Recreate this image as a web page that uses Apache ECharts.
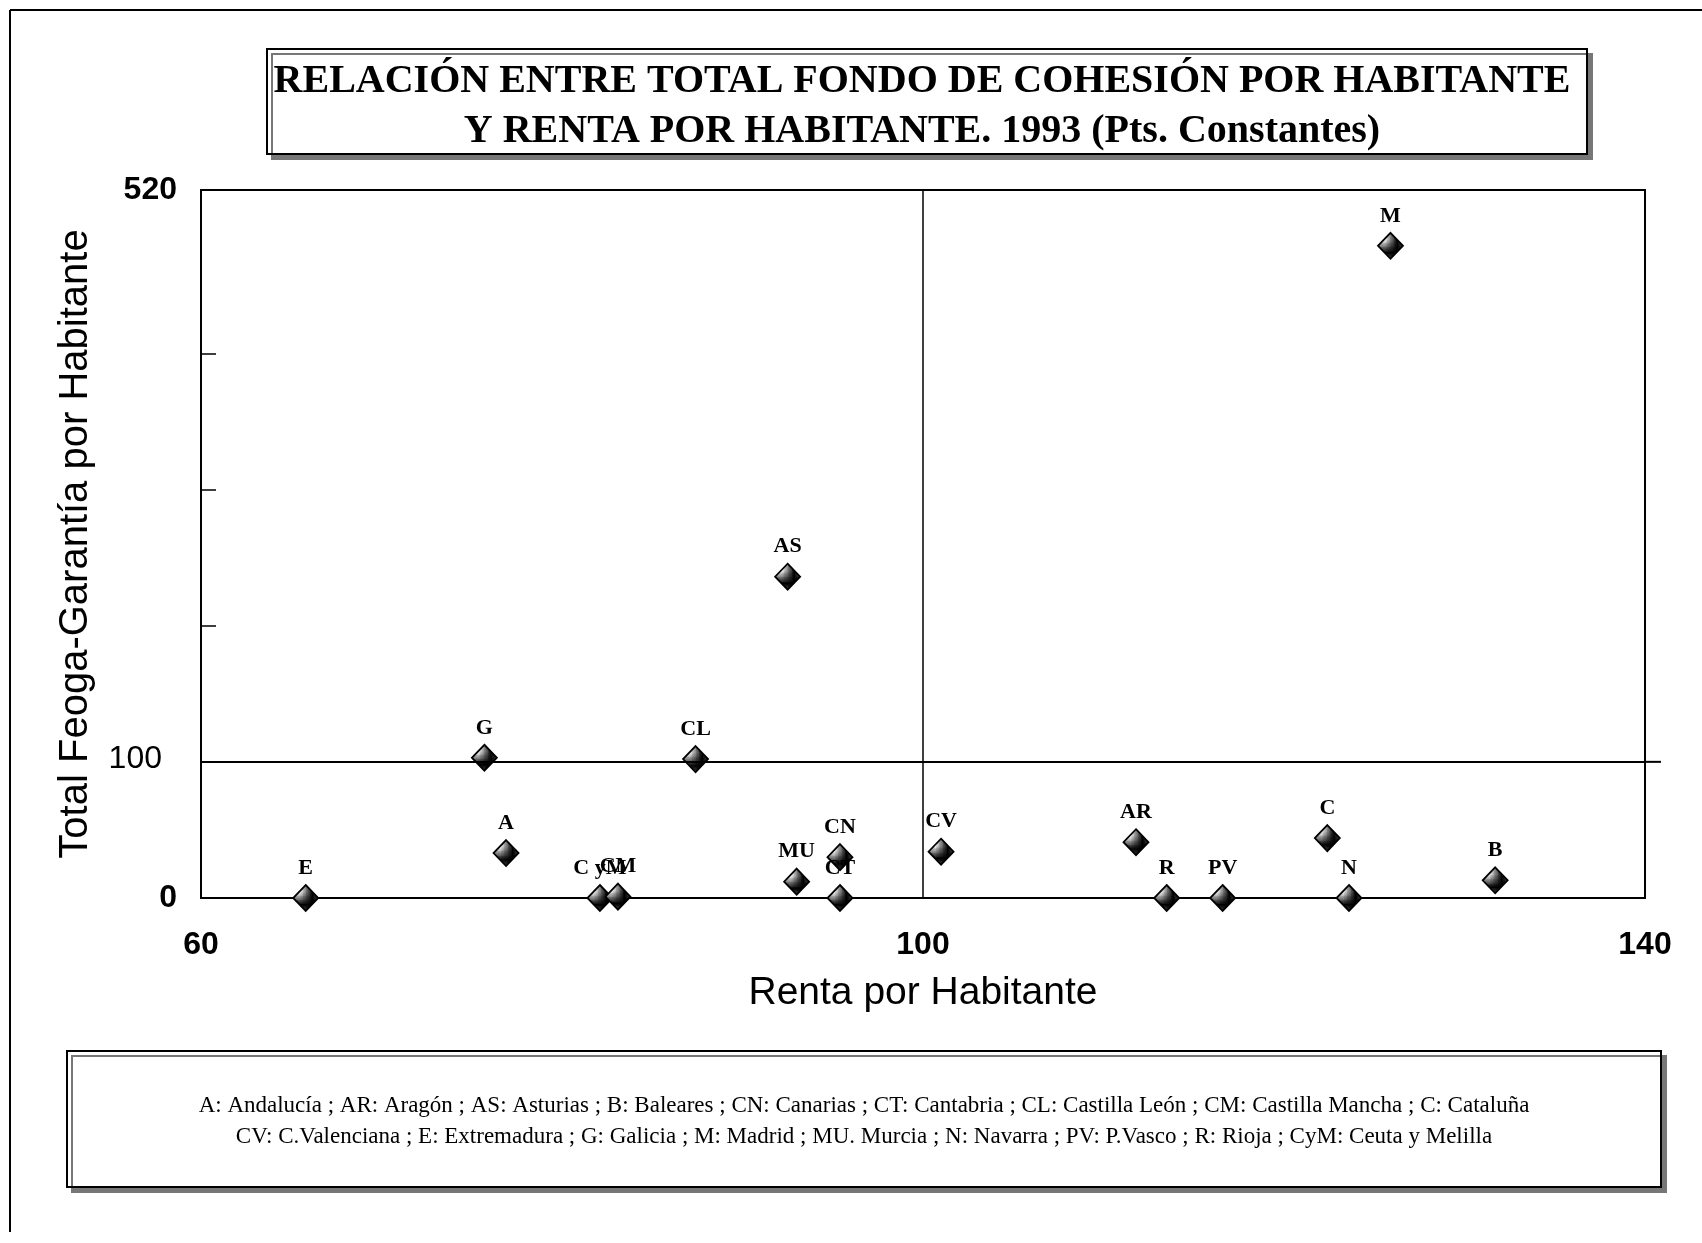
<!DOCTYPE html>
<html>
<head>
<meta charset="utf-8">
<script src="https://cdn.jsdelivr.net/npm/echarts@6/dist/echarts.min.js"></script>
<style>
html,body{margin:0;padding:0;background:#fff;}
#chart{width:1702px;height:1243px;}
</style>
</head>
<body>
<div id="chart"></div>
<script>
// ---- data ----
var codes = ['E', 'G', 'A', 'C yM', 'CM', 'CL', 'AS', 'MU', 'CN', 'CT', 'CV', 'AR', 'R', 'PV', 'C', 'N', 'M', 'B'];
var renta = [65.8, 75.7, 76.9, 82.1, 83.1, 87.4, 92.5, 93.0, 95.4, 95.4, 101.0, 111.8, 113.5, 116.6, 122.4, 123.6, 125.9, 131.7];
var feoga = [0, 103, 33, 0, 1, 102, 236, 12, 30, 0, 34, 41, 0, 0, 44, 0, 479, 13];
var xTickLabels = [60, 100, 140];
var yTickLabels = [0, 100, 520];
var yMinorTicks = [200, 300, 400];
var titleLines = ['RELACIÓN ENTRE TOTAL FONDO DE COHESIÓN POR HABITANTE', 'Y RENTA POR HABITANTE. 1993 (Pts. Constantes)'];
var legendLines = [
  'A: Andalucía ; AR: Aragón ; AS: Asturias ; B: Baleares ; CN: Canarias ; CT: Cantabria ; CL: Castilla León ; CM: Castilla Mancha ; C: Cataluña',
  'CV: C.Valenciana ; E: Extremadura ; G: Galicia ; M: Madrid ; MU. Murcia ; N: Navarra ; PV: P.Vasco ; R: Rioja ; CyM: Ceuta y Melilla'
];
var xName = 'Renta por Habitante';
var yName = 'Total Feoga-Garantía por Habitante';

// ---- mesh pattern for the diamonds ----
var pc = document.createElement('canvas');
pc.width = 3; pc.height = 3;
var pctx = pc.getContext('2d');
pctx.fillStyle = '#000'; pctx.fillRect(0, 0, 3, 3);
pctx.fillStyle = '#fff'; pctx.fillRect(1, 1, 2, 2);

var points = codes.map(function (c, i) { return { name: c, value: [renta[i], feoga[i]] }; });

var chart = echarts.init(document.getElementById('chart'), null, { renderer: 'canvas' });

var serif = '"Liberation Serif", "Times New Roman", serif';
var sans = '"Liberation Sans", Arial, sans-serif';

var baseGraphic = [
  { id: 'frameTop', type: 'line', shape: { x1: 10, y1: 10, x2: 1702, y2: 10 }, style: { stroke: '#000', lineWidth: 2 } },
  { id: 'frameLeft', type: 'line', shape: { x1: 10, y1: 10, x2: 10, y2: 1232 }, style: { stroke: '#000', lineWidth: 2 } },
  { id: 'titleBox', type: 'rect', shape: { x: 267, y: 49, width: 1320, height: 105 },
    style: { fill: '#fff', stroke: '#000', lineWidth: 2, shadowColor: '#777', shadowOffsetX: 5, shadowOffsetY: 5, shadowBlur: 0 } },
  { id: 'title1', type: 'text', x: 922, y: 82, style: { text: titleLines[0], fontFamily: serif, fontWeight: 'bold', fontSize: 40, fill: '#000', align: 'center', verticalAlign: 'middle' } },
  { id: 'title2', type: 'text', x: 922, y: 132, style: { text: titleLines[1], fontFamily: serif, fontWeight: 'bold', fontSize: 40, fill: '#000', align: 'center', verticalAlign: 'middle' } },
  { id: 'legBox', type: 'rect', shape: { x: 67, y: 1051, width: 1594, height: 136 },
    style: { fill: '#fff', stroke: '#000', lineWidth: 2, shadowColor: '#777', shadowOffsetX: 5, shadowOffsetY: 5, shadowBlur: 0 } },
  { id: 'leg1', type: 'text', x: 864, y: 1106, style: { text: legendLines[0], fontFamily: serif, fontSize: 23, fill: '#000', align: 'center', verticalAlign: 'middle' } },
  { id: 'leg2', type: 'text', x: 864, y: 1137, style: { text: legendLines[1], fontFamily: serif, fontSize: 23, fill: '#000', align: 'center', verticalAlign: 'middle' } }
];

chart.setOption({
  animation: false,
  backgroundColor: '#fff',
  grid: { left: 201, right: 57, top: 190, bottom: 345, show: true, borderColor: '#000', borderWidth: 2, backgroundColor: 'transparent' },
  xAxis: {
    type: 'value', min: 60, max: 140, interval: 40,
    name: xName, nameLocation: 'middle', nameGap: 76,
    nameTextStyle: { fontFamily: sans, fontSize: 39, color: '#000' },
    axisLine: { show: true, lineStyle: { color: '#000', width: 2 } },
    axisTick: { show: false },
    splitLine: { show: false },
    axisLabel: { customValues: xTickLabels, margin: 31, fontFamily: sans, fontSize: 32, fontWeight: 'bold', color: '#000', showMinLabel: true, showMaxLabel: true }
  },
  yAxis: {
    type: 'value', min: 0, max: 520,
    name: yName, nameLocation: 'middle', nameGap: 105, nameRotate: 90,
    nameTextStyle: { fontFamily: sans, fontSize: 40, color: '#000' },
    axisLine: { show: true, lineStyle: { color: '#000', width: 2 } },
    axisTick: { show: true, inside: true, length: 15, customValues: yMinorTicks, lineStyle: { color: '#000', width: 1.5 } },
    splitLine: { show: false },
    axisLabel: {
      customValues: yTickLabels, margin: 24, fontFamily: sans, fontSize: 32, color: '#000',
      formatter: function (v) { return v === 100 ? '{b|' + v + '}' : '{a|' + v + '}'; },
      rich: {
        a: { fontFamily: sans, fontSize: 32, fontWeight: 'bold', color: '#000' },
        b: { fontFamily: sans, fontSize: 32, fontWeight: 'normal', color: '#000', padding: [0, 15, 6, 0] }
      }
    }
  },
  series: [{
    type: 'scatter',
    data: points,
    symbol: 'diamond',
    symbolSize: [25, 26],
    itemStyle: { color: { image: pc, repeat: 'repeat' }, borderColor: '#000', borderWidth: 1.8, opacity: 1 },
    label: {
      show: true, position: 'top', distance: 5,
      formatter: '{b}', fontFamily: serif, fontSize: 22, fontWeight: 'bold', color: '#000'
    },
    emphasis: { disabled: true },
    markLine: {
      silent: true, symbol: 'none', label: { show: false }, animation: false,
      data: [
        [{ coord: [100, 0], lineStyle: { color: '#000', width: 1.5, type: 'solid' } }, { coord: [100, 520] }],
        [{ coord: [60, 100], lineStyle: { color: '#000', width: 2, type: 'solid' } }, { coord: [140, 100] }]
      ]
    },
    z: 3
  }],
  graphic: baseGraphic
});

var p = chart.convertToPixel({ gridIndex: 0 }, [140, 100]);
chart.setOption({
  graphic: baseGraphic.concat([
    { id: 'ext', type: 'line', shape: { x1: p[0], y1: p[1], x2: p[0] + 16, y2: p[1] }, style: { stroke: '#000', lineWidth: 2 } }
  ])
});
</script>
</body>
</html>
